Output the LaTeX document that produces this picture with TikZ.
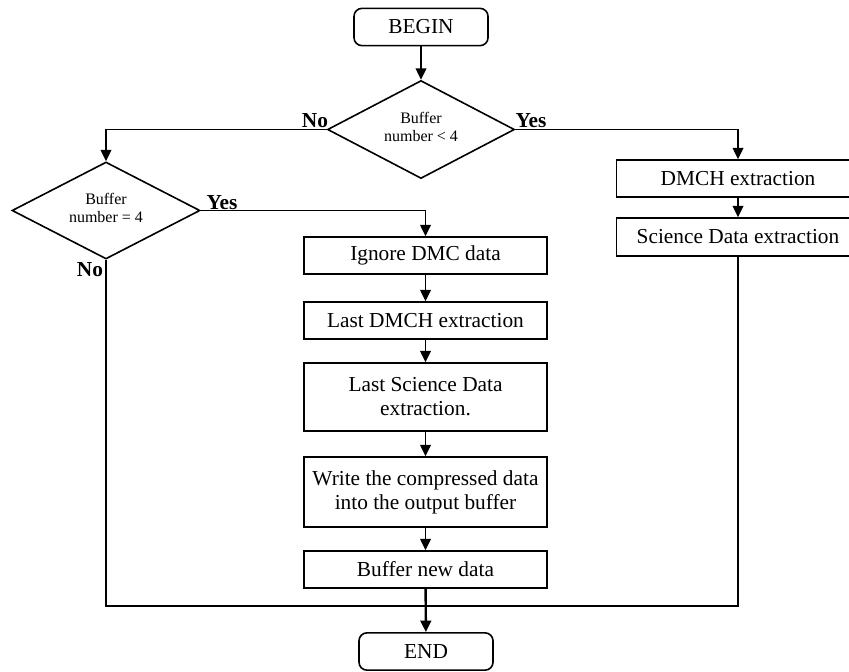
\documentclass[tikz,border=0pt]{standalone}
\usepackage{fontspec}
\setmainfont{Liberation Serif}
\usetikzlibrary{shapes.geometric,arrows.meta}
\tikzset{
  base/.style={draw, line width=1.2pt, inner sep=1pt, align=center, font=\fontsize{16}{18}\selectfont},
  term/.style={base, rounded corners=6pt, minimum width=100.5pt, minimum height=28pt},
  proc/.style={base, minimum width=182.25pt},
  dia/.style={draw, line width=1.2pt, diamond, inner sep=0pt},
  diatext/.style={align=center, inner sep=0pt, font=\fontsize{12}{13.5}\selectfont},
  lab/.style={inner sep=0pt, font=\fontsize{16}{18}\selectfont\bfseries},
  conn/.style={line width=1.2pt},
  arr/.style={conn, -{Triangle[length=8.5pt,width=8pt]}}
}
\begin{document}
\begin{tikzpicture}[x=0.75pt,y=-0.75pt]
\clip (0,0) rectangle (849,671);
\fill[white] (0,0) rectangle (849,671);
% terminals
\node[term] (begin) at (421,27) {BEGIN};
\node[term] (end) at (426,651.5) {END};
% decisions
\node[dia, minimum width=140.25pt, minimum height=73.5pt] (d1) at (421,129.5) {};
\node[diatext] (d1t) at (421,127) {Buffer\\number < 4};
\node[dia, minimum width=141pt, minimum height=72.75pt] (d2) at (106,210.5) {};
\node[diatext] (d2t) at (106,208) {Buffer\\number = 4};
% right branch
\node[proc, minimum height=27.75pt] (dmch) at (738,178.5) {DMCH extraction};
\node[proc, minimum height=28.5pt] (sci) at (738,237) {Science Data extraction};
% middle chain
\node[proc, minimum height=27.75pt] (ignore) at (425.5,255.5) {Ignore DMC data};
\node[proc, minimum height=27.75pt] (lastdmch) at (425.5,320.5) {Last DMCH extraction};
\node[proc, minimum height=51pt] (lastsci) at (425.5,397) {Last Science Data\\extraction.};
\node[proc, minimum height=52.5pt] (write) at (425.5,492) {Write the compressed data\\into the output buffer};
\node[proc, minimum height=27.75pt] (bufnew) at (425.5,569.5) {Buffer new data};
\coordinate (m) at (426,606);
% labels
\node[lab] (no1) at (315,121) {No};
\node[lab] (yes1) at (531,121) {Yes};
\node[lab] (yes2) at (222,203) {Yes};
\node[lab] (no2) at (90,270) {No};
% connectors
\draw[arr] (begin) -- (d1);
\draw[arr] (d1.west) -| (d2.north);
\draw[arr] (d1.east) -| (dmch.north);
\draw[arr] (dmch) -- (sci);
\draw[arr] (d2.east) -| (ignore.north);
\draw[arr] (ignore) -- (lastdmch);
\draw[arr] (lastdmch) -- (lastsci);
\draw[arr] (lastsci) -- (write);
\draw[arr] (write) -- (bufnew);
\draw[conn] (d2.south) |- (m);
\draw[conn] (sci.south) |- (m);
\draw[arr, line width=1.8pt] (bufnew) -- (end);
\end{tikzpicture}
\end{document}
